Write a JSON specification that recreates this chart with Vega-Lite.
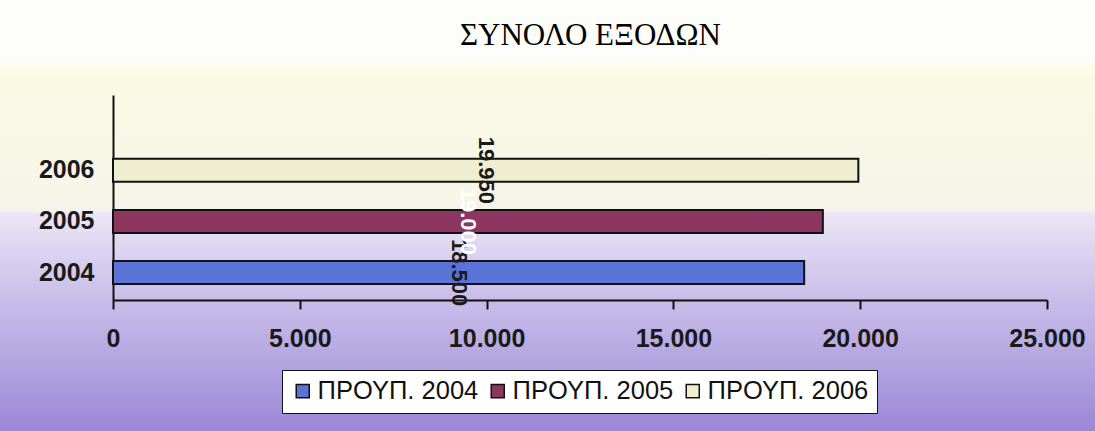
{
  "$schema": "https://vega.github.io/schema/vega-lite/v6.json",
  "width": 1095,
  "height": 371,
  "autosize": {"type": "none"},
  "padding": {"top": 60, "left": 0, "right": 0, "bottom": 0},
  "background": "#fdfdf9",
  "view": {
    "stroke": null,
    "fill": {
      "gradient": "linear",
      "x1": 0, "y1": 0, "x2": 0, "y2": 1,
      "stops": [
        {"offset": 0, "color": "#fdfdf2"},
        {"offset": 0.05, "color": "#fafae3"},
        {"offset": 0.38, "color": "#f6f5e9"},
        {"offset": 0.41, "color": "#f3f2ee"},
        {"offset": 0.413, "color": "#ebe6f6"},
        {"offset": 0.647, "color": "#c8bde9"},
        {"offset": 0.82, "color": "#b2a4e1"},
        {"offset": 1, "color": "#9a87d8"}
      ]
    }
  },
  "title": {
    "text": "ΣΥΝΟΛΟ ΕΞΟΔΩΝ",
    "font": "Liberation Serif",
    "fontSize": 31,
    "fontWeight": "normal",
    "color": "#000000",
    "anchor": "middle",
    "frame": "group",
    "dx": 43,
    "offset": 8
  },
  "config": {
    "locale": {
      "number": {"decimal": ",", "thousands": ".", "grouping": [3], "currency": ["", " €"]}
    },
    "axis": {"grid": false}
  },
  "data": {
    "values": [
      {"year": "2004", "series": "ΠΡΟΥΠ. 2004", "value": 18500},
      {"year": "2005", "series": "ΠΡΟΥΠ. 2005", "value": 19000},
      {"year": "2006", "series": "ΠΡΟΥΠ. 2006", "value": 19950}
    ]
  },
  "layer": [
    {
      "mark": {"type": "bar", "stroke": "#111111", "strokeWidth": 2},
      "encoding": {
        "y": {
          "field": "year",
          "type": "nominal",
          "sort": ["2006", "2005", "2004"],
          "scale": {"range": [35, 240], "paddingInner": 0.55, "paddingOuter": 0.78, "align": 0.8},
          "axis": {
            "title": null,
            "offset": -113,
            "ticks": false,
            "domainColor": "#111111",
            "domainWidth": 2,
            "labelFont": "Liberation Sans",
            "labelFontSize": 25,
            "labelFontWeight": "bold",
            "labelColor": "#1a1a1a",
            "labelPadding": 19
          }
        },
        "x": {
          "field": "value",
          "type": "quantitative",
          "scale": {"domain": [0, 25000], "range": [113, 1047], "nice": false},
          "axis": {
            "title": null,
            "offset": -131,
            "values": [0, 5000, 10000, 15000, 20000, 25000],
            "format": ",d",
            "domainColor": "#111111",
            "domainWidth": 2,
            "tickColor": "#111111",
            "tickWidth": 2,
            "tickSize": 9,
            "labelFont": "Liberation Sans",
            "labelFontSize": 25,
            "labelFontWeight": "bold",
            "labelColor": "#1a1a1a",
            "labelPadding": 17,
            "labelFlush": false,
            "labelOverlap": false
          }
        },
        "color": {
          "field": "series",
          "type": "nominal",
          "scale": {
            "domain": ["ΠΡΟΥΠ. 2004", "ΠΡΟΥΠ. 2005", "ΠΡΟΥΠ. 2006"],
            "range": ["#5b72d6", "#8c3660", "#efeed0"]
          },
          "legend": {
            "title": null,
            "orient": "none",
            "legendX": 282,
            "legendY": 310,
            "direction": "horizontal",
            "columns": 3,
            "fillColor": "#ffffff",
            "strokeColor": "#111111",
            "padding": 8,
            "symbolType": "square",
            "symbolSize": 170,
            "symbolStrokeColor": "#111111",
            "symbolStrokeWidth": 1.5,
            "symbolOpacity": 1,
            "labelFont": "Liberation Sans",
            "labelFontSize": 25.5,
            "labelColor": "#111111",
            "labelOffset": 2,
            "columnPadding": 6,
            "labelLimit": 400
          }
        }
      }
    },
    {
      "mark": {"type": "text", "angle": 90, "font": "Liberation Sans", "fontSize": 22, "fontWeight": "bold", "align": "center", "baseline": "middle"},
      "encoding": {
        "y": {"field": "year", "type": "nominal", "sort": ["2006", "2005", "2004"]},
        "x": {
          "field": "value",
          "type": "quantitative",
          "scale": {"domain": [0, 50000], "range": [113, 1047], "nice": false},
          "axis": null
        },
        "text": {"field": "value", "type": "quantitative", "format": ",d"},
        "color": {"condition": {"test": "datum.year === '2005'", "value": "#ffffff"}, "value": "#1a1a1a"}
      }
    }
  ],
  "resolve": {"scale": {"x": "independent"}}
}
